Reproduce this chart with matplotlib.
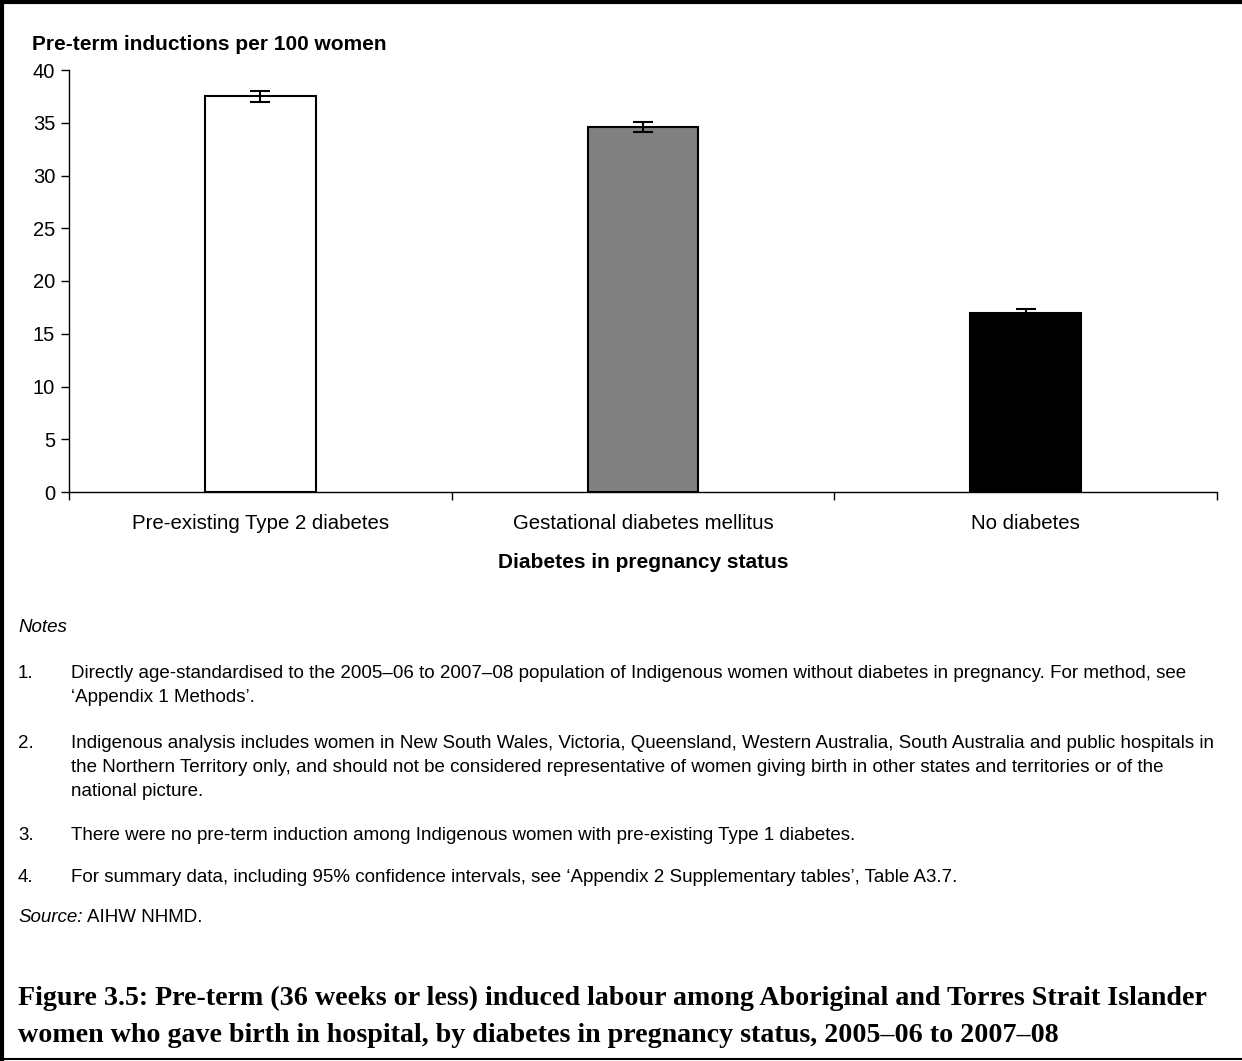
import matplotlib
matplotlib.use("Agg")
import matplotlib.pyplot as plt
from matplotlib.lines import Line2D
import numpy as np

# Diabetes-in-pregnancy groups and age-standardised rates with 95% CIs
categories = ["Pre-existing Type 2 diabetes", "Gestational diabetes mellitus", "No diabetes"]
rates = [37.5, 34.6, 17.0]
ci_low = [37.0, 34.1, 16.7]
ci_high = [38.0, 35.1, 17.3]
bar_colors = ["white", "#808080", "black"]
y_ticks = [0, 5, 10, 15, 20, 25, 30, 35, 40]

notes = [
    ("1.", ["Directly age-standardised to the 2005\u201306 to 2007\u201308 population of Indigenous women without diabetes in pregnancy. For method, see",
            "\u2018Appendix 1 Methods\u2019."]),
    ("2.", ["Indigenous analysis includes women in New South Wales, Victoria, Queensland, Western Australia, South Australia and public hospitals in",
            "the Northern Territory only, and should not be considered representative of women giving birth in other states and territories or of the",
            "national picture."]),
    ("3.", ["There were no pre-term induction among Indigenous women with pre-existing Type 1 diabetes."]),
    ("4.", ["For summary data, including 95% confidence intervals, see \u2018Appendix 2 Supplementary tables\u2019, Table A3.7."]),
]
caption = ["Figure 3.5: Pre-term (36 weeks or less) induced labour among Aboriginal and Torres Strait Islander",
           "women who gave birth in hospital, by diabetes in pregnancy status, 2005\u201306 to 2007\u201308"]

plt.rcParams["font.family"] = ["Liberation Sans", "DejaVu Sans"]

W, H = 1242, 1061
fig = plt.figure(figsize=(W / 100, H / 100), dpi=100)

def fx(px):
    return px / W

def fy(py):
    return 1 - py / H

ax = fig.add_axes([fx(69), fy(492), fx(1217) - fx(69), fy(70) - fy(492)])

x = np.arange(len(categories))
rates_arr = np.array(rates)
yerr = np.array([rates_arr - np.array(ci_low), np.array(ci_high) - rates_arr])
ax.bar(x, rates, width=0.29, color=bar_colors, edgecolor="black", linewidth=1.5, zorder=2)
ax.errorbar(x, rates, yerr=yerr, fmt="none", ecolor="black", elinewidth=1.5,
            capsize=7, capthick=1.5, zorder=3)

ax.set_xlim(-0.5, len(categories) - 0.5)
ax.set_ylim(0, 40)
ax.set_yticks(y_ticks)
ax.set_yticklabels([str(t) for t in y_ticks], fontsize=14.5)
ax.set_xticks(np.arange(-0.5, len(categories), 1.0))
ax.set_xticklabels([])
ax.set_xticks(x, minor=True)
ax.set_xticklabels(categories, minor=True, fontsize=14.7)
ax.tick_params(axis="x", which="minor", length=0, pad=16)
ax.tick_params(axis="x", which="major", length=6, direction="out", width=1)
ax.tick_params(axis="y", length=6, direction="out", width=1, pad=4)
for s in ["top", "right"]:
    ax.spines[s].set_visible(False)
for s in ["left", "bottom"]:
    ax.spines[s].set_linewidth(1)

fig.text(fx(32), fy(44), "Pre-term inductions per 100 women", fontsize=15,
         fontweight="bold", va="center", ha="left")
fig.text(fx(643), fy(563), "Diabetes in pregnancy status", fontsize=15,
         fontweight="bold", va="center", ha="center")

# Notes block
note_size = 13.5
fig.text(fx(18), fy(628), "Notes", fontsize=note_size, style="italic", va="center")
note_start = [673, 743, 835, 877]
for (num, lines), y0 in zip(notes, note_start):
    fig.text(fx(18), fy(y0), num, fontsize=note_size, va="center")
    for i, line in enumerate(lines):
        fig.text(fx(71), fy(y0 + 24.5 * i), line, fontsize=note_size, va="center")

src_label = fig.text(fx(18), fy(917), "Source:", fontsize=note_size, style="italic", va="center")
renderer = fig.canvas.get_renderer()
bb = src_label.get_window_extent(renderer=renderer)
fig.text((bb.x1 + 5) / W, fy(917), "AIHW NHMD.", fontsize=note_size, va="center")

# Caption
for i, line in enumerate(caption):
    fig.text(fx(18), fy(998 + 37 * i), line, fontsize=20.2, fontweight="bold",
             family=["Liberation Serif", "DejaVu Serif"], va="center")

# Frame around the figure (top, left, bottom)
frame_kw = dict(color="black", linewidth=3, transform=fig.transFigure, clip_on=False)
fig.add_artist(Line2D([0, 1], [fy(1.5), fy(1.5)], **frame_kw))
fig.add_artist(Line2D([fx(1.5), fx(1.5)], [fy(0), fy(1059)], **frame_kw))
fig.add_artist(Line2D([0, 1], [fy(1059), fy(1059)], color="black", linewidth=1.5,
                      transform=fig.transFigure, clip_on=False))

fig.savefig("out.png", dpi=100)
